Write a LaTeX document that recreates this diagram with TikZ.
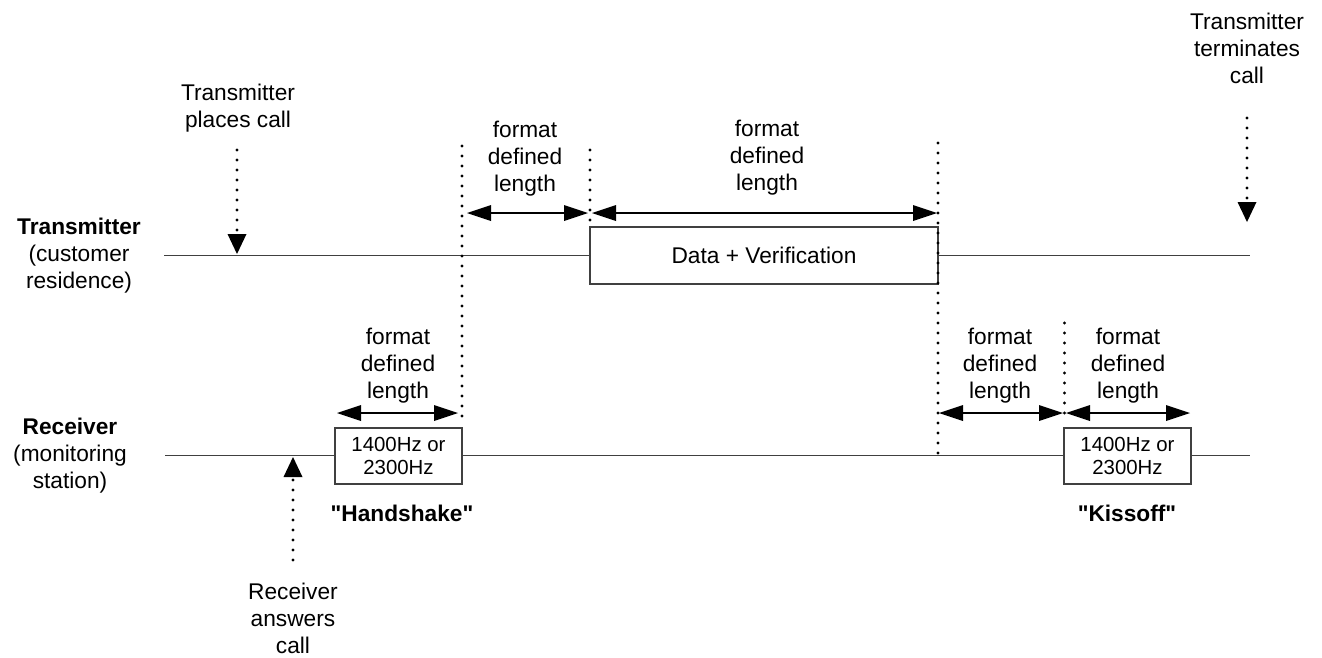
\documentclass[tikz,border=0pt]{standalone}
\usepackage{fontspec}
\setmainfont{Liberation Sans}
\newfontfamily\plainsans{Liberation Sans}
\usetikzlibrary{arrows.meta}
\tikzset{
  txt/.style={align=center, inner sep=0pt, font=\fontsize{22.7}{27}\selectfont},
  smalltxt/.style={align=center, inner sep=0pt, font=\fontsize{20.4}{23}\selectfont},
  timeline/.style={draw=black!75, line width=1.2pt},
  framebox/.style={draw=black!75, line width=1.5pt, fill=white, inner sep=0pt},
  dotline/.style={line width=3.4pt, line cap=round, dash pattern=on 0pt off 10pt},
  dimarrow/.style={line width=1.2pt, {Triangle[length=24pt,width=16pt,line width=0pt]}-{Triangle[length=24pt,width=16pt,line width=0pt]}},
  evarrow/.style={dotline, -{Triangle[length=20pt,width=19pt,line width=0pt]}}
}
\begin{document}
\begin{tikzpicture}[x=1pt,y=-1pt]
\useasboundingbox (0,0) rectangle (1322,657);

% timelines
\coordinate (tl0) at (164,255.7);
\coordinate (tl1) at (1250,255.7);
\coordinate (rl0) at (165,455.7);
\coordinate (rl1) at (1250,455.7);
\draw[timeline] (tl0) -- (tl1);
\draw[timeline] (rl0) -- (rl1);

% side labels
\node[txt] (tx) at (79,256) {\textbf{Transmitter}\\(customer\\residence)};
\node[txt] (rx) at (70,456) {\textbf{Receiver}\\(monitoring\\station)};

% boxes
\node[framebox, txt, minimum width=348pt, minimum height=57pt] (data) at (764,255.5) {Data + Verification};
\node[framebox, smalltxt, minimum width=127pt, minimum height=56pt] (hs) at (398.5,456) {1400Hz or\\2300Hz};
\node[framebox, smalltxt, minimum width=127pt, minimum height=56pt] (ko) at (1127.5,456) {1400Hz or\\2300Hz};

\node[txt] (hslbl) at (402,513) {\plainsans\bfseries "Handshake"};
\node[txt] (kolbl) at (1127,513) {\plainsans\bfseries "Kissoff"};

% dotted verticals
\coordinate (d1t) at (462,146);
\coordinate (d1b) at (462,424);
\coordinate (d2t) at (590,150);
\coordinate (d2b) at (590,224);
\coordinate (d3t) at (938,143);
\coordinate (d3b) at (938,456);
\coordinate (d4t) at (1064.5,323);
\coordinate (d4b) at (1064.5,420);
\draw[dotline] (d1t) -- (d1b);
\draw[dotline] (d2t) -- (d2b);
\draw[dotline] (d3t) -- (d3b);
\draw[dotline] (d4t) -- (d4b);

% dimension arrows
\coordinate (a1l) at (467,213);
\coordinate (a1r) at (588,213);
\coordinate (a2l) at (592,213);
\coordinate (a2r) at (937,213);
\coordinate (a3l) at (337,413);
\coordinate (a3r) at (458,413);
\coordinate (a4l) at (939,413);
\coordinate (a4r) at (1063,413);
\coordinate (a5l) at (1066,413);
\coordinate (a5r) at (1190,413);
\draw[dimarrow] (a1l) -- (a1r);
\draw[dimarrow] (a2l) -- (a2r);
\draw[dimarrow] (a3l) -- (a3r);
\draw[dimarrow] (a4l) -- (a4r);
\draw[dimarrow] (a5l) -- (a5r);

\node[txt] (f1) at (525,159) {format\\defined\\length};
\node[txt] (f2) at (767,158) {format\\defined\\length};
\node[txt] (f3) at (398,366) {format\\defined\\length};
\node[txt] (f4) at (1000,366) {format\\defined\\length};
\node[txt] (f5) at (1128,366) {format\\defined\\length};

% events
\node[txt] (place) at (238,108) {Transmitter\\places call};
\coordinate (p0) at (237,150);
\coordinate (p1) at (237,254);
\draw[evarrow] (p0) -- (p1);

\node[txt] (term) at (1247,48) {Transmitter\\terminates\\call};
\coordinate (t0) at (1247,118);
\coordinate (t1) at (1247,222);
\draw[evarrow] (t0) -- (t1);

\node[txt] (ans) at (293,618) {Receiver\\answers\\call};
\coordinate (r0) at (293,560);
\coordinate (r1) at (293,457);
\draw[evarrow] (r0) -- (r1);
\end{tikzpicture}
\end{document}
